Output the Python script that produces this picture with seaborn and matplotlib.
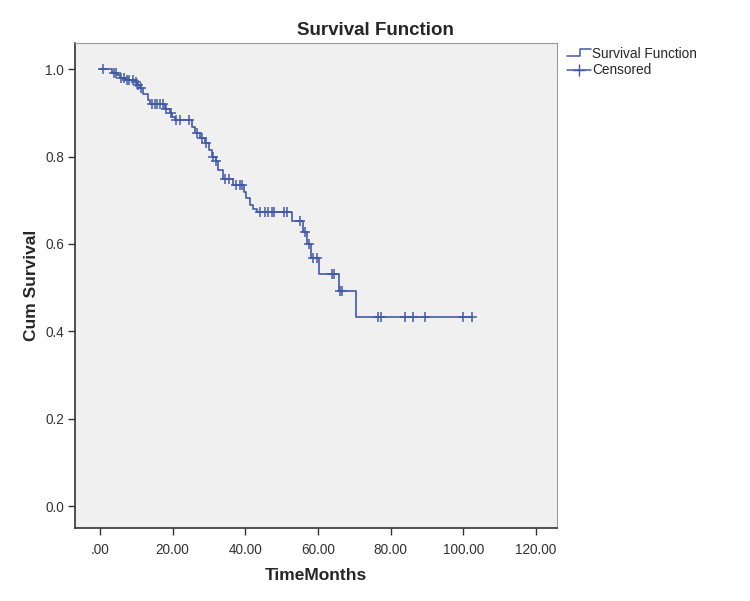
import numpy as np
import pandas as pd
import seaborn as sns
import matplotlib.pyplot as plt
from matplotlib.lines import Line2D
from matplotlib.legend_handler import HandlerBase
from matplotlib.ticker import FuncFormatter, MultipleLocator

# step times (months) and cumulative survival after each step
event_time = [0, 3.2, 4.7, 5.5, 7.0, 9.5, 10.2, 11.0, 11.9, 13.2, 13.8, 17.9, 19.3,
              19.8, 20.6, 25.3, 26.2, 27.5, 28.8, 30.0, 30.8, 31.8, 32.5, 33.9,
              36.6, 39.5, 40.2, 41.2, 42.0, 43.2, 52.8, 56.0, 57.0, 58.2, 60.4,
              65.8, 70.5, 102.5]
cum_survival = [1.0, 0.992, 0.986, 0.979, 0.975, 0.970, 0.963, 0.957, 0.944, 0.930,
                0.920, 0.910, 0.900, 0.890, 0.883, 0.867, 0.854, 0.842, 0.830,
                0.815, 0.800, 0.790, 0.770, 0.748, 0.736, 0.720, 0.705, 0.690,
                0.680, 0.673, 0.652, 0.628, 0.600, 0.569, 0.532, 0.493, 0.432,
                0.432]
censored_time = [0.9, 3.7, 4.3, 5.8, 6.5, 7.5, 8.0, 9.0, 9.8, 10.5, 11.3, 14.2, 15.0,
                 15.8, 16.5, 17.2, 18.2, 19.6, 21.0, 22.0, 24.5, 26.8, 28.0, 29.3,
                 31.0, 32.0, 34.5, 35.5, 37.3, 38.4, 39.0, 44.0, 45.4, 46.3, 47.3,
                 48.0, 50.5, 51.4, 55.0, 56.5, 57.5, 58.7, 59.6, 63.8, 64.5, 66.1,
                 66.6, 76.6, 77.3, 83.9, 86.2, 89.5, 100.0, 102.5]

line_color = "#4259AB"

km = pd.DataFrame({"TimeMonths": event_time, "Cum Survival": cum_survival})
idx = np.searchsorted(event_time, censored_time, side="right") - 1
cens = pd.DataFrame({"TimeMonths": censored_time,
                     "Cum Survival": np.array(cum_survival)[idx]})


class StepHandler(HandlerBase):
    def create_artists(self, legend, orig_handle, xdescent, ydescent,
                       width, height, fontsize, trans):
        x0, x1 = -xdescent, -xdescent + width
        xm = x0 + width * 0.55
        yl, yh = -ydescent + height * 0.2, -ydescent + height * 0.9
        ln = Line2D([x0, xm, xm, x1], [yl, yl, yh, yh], color=line_color, lw=1.1)
        ln.set_transform(trans)
        return [ln]


sns.set_style("ticks", {"axes.facecolor": "#F0F0F0", "axes.edgecolor": "#333333"})
plt.rcParams["font.family"] = ["Liberation Sans", "DejaVu Sans"]

fig = plt.figure(figsize=(7.5, 6.01), dpi=100)
ax = fig.add_axes([0.1, 0.1215, 0.6427, 0.807])

sns.lineplot(data=km, x="TimeMonths", y="Cum Survival", estimator=None, sort=False,
             drawstyle="steps-post", color=line_color, lw=1.2, ax=ax)
sns.scatterplot(data=cens, x="TimeMonths", y="Cum Survival", marker="+", s=45,
                color=line_color, edgecolor=line_color, linewidth=1.1, ax=ax,
                zorder=3)

ax.set_xlim(-6.9, 125.8)
ax.set_ylim(-0.05, 1.06)
ax.xaxis.set_major_locator(MultipleLocator(20))
ax.yaxis.set_major_locator(MultipleLocator(0.2))
ax.xaxis.set_major_formatter(FuncFormatter(lambda v, p: ".00" if v == 0 else "%.2f" % v))
ax.yaxis.set_major_formatter(FuncFormatter(lambda v, p: "%.1f" % v))
ax.tick_params(axis="both", length=5, width=1, color="#333333", labelsize=9.8,
               labelcolor="#333333")
ax.tick_params(axis="x", pad=6)
ax.tick_params(axis="y", pad=3)

for side in ["left", "bottom"]:
    ax.spines[side].set_linewidth(1.2)
    ax.spines[side].set_color("#333333")
for side in ["top", "right"]:
    ax.spines[side].set_linewidth(0.8)
    ax.spines[side].set_color("#9A9A9A")

ax.set_xlabel("TimeMonths", fontsize=12.5, fontweight="bold", labelpad=8)
ax.set_ylabel("Cum Survival", fontsize=12.5, fontweight="bold", labelpad=4)
fig.suptitle("Survival Function", x=0.5, y=0.963, fontsize=13.5, fontweight="bold")

h_surv = Line2D([], [], color=line_color, lw=1.1)
h_cens = Line2D([], [], color=line_color, lw=1.1, marker="+", markersize=8)
ax.legend([h_surv, h_cens], ["Survival Function", "Censored"],
          handler_map={h_surv: StepHandler()},
          loc="upper left", bbox_to_anchor=(1.0, 1.012), frameon=False,
          fontsize=9.8, handlelength=1.8, handletextpad=0.1, labelspacing=0.2,
          borderaxespad=0.3)

plt.savefig("out.png", dpi=100)
